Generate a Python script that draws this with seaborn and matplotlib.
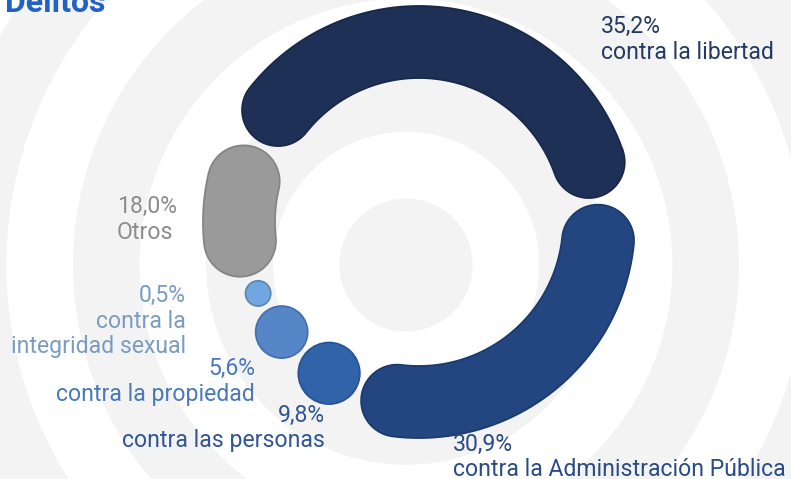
import numpy as np
import matplotlib
matplotlib.use('Agg')
import matplotlib.pyplot as plt
import seaborn as sns
from matplotlib.patches import Circle, Polygon

# data, clockwise from the upper left
categories = ['contra la libertad', 'contra la Administración Pública', 'contra las personas',
              'contra la propiedad', 'contra la\nintegridad sexual', 'Otros']
values = [35.2, 30.9, 9.8, 5.6, 0.5, 18.0]

colors = ['#1f3057', '#234680', '#3163a9', '#5686c8', '#70a7e0', '#9a9a9a']
edge_colors = ['#18284a', '#1b3a6e', '#27539a', '#4470ad', '#5f88ad', '#858585']
text_colors = ['#243a62', '#2a4b85', '#2f5597', '#4a78b8', '#7a9cc0', '#8c8c8c']

sns.set_theme(style='white')
plt.rcParams['font.family'] = ['Roboto', 'DejaVu Sans']

fig = plt.figure(figsize=(7.91, 4.79), dpi=100)
ax = fig.add_axes([0, 0, 1, 1])
ax.set_xlim(0, 791)
ax.set_ylim(479, 0)
ax.axis('off')

# concentric background bands
for k in range(9, 0, -1):
    ax.add_patch(Circle((406, 265), k * 66.6, color='#f3f3f3' if k % 2 else 'white', lw=0, zorder=0))

cx, cy = 419, 222
rm, hw = 180, 36
gap = np.radians(2.5)
start = np.radians(-63)


def pos(phi, r):
    return cx + r * np.sin(phi), cy - r * np.cos(phi)


def capsule(a, b):
    d = hw / rm
    ca, cb = a + d, b - d
    t = np.linspace(ca, cb, 100)
    al = np.linspace(0, np.pi, 40)[:, None]

    def cap(phi, sign):
        c = np.array(pos(phi, rm))
        u = np.array([np.sin(phi), -np.cos(phi)])
        tt = np.array([np.cos(phi), np.sin(phi)])
        return c + hw * sign * (np.cos(al) * u + np.sin(al) * tt)

    outer = np.column_stack(pos(t, rm + hw))
    inner = np.column_stack(pos(t[::-1], rm - hw))
    return np.vstack([outer, cap(cb, 1), inner, cap(ca, -1)])


# small shares are drawn as bubbles, large ones share the rest of the ring
is_bubble = [v < 10 for v in values]
bubble_r = [15.5 * v ** 0.3 for v in values]
bubble_ang = sum(2 * r / rm for r, b in zip(bubble_r, is_bubble) if b)
weights = [v ** 1.85 for v, b in zip(values, is_bubble) if not b]
free = 2 * np.pi - len(values) * gap - bubble_ang

phi = start
for v, b, r, fc, ec in zip(values, is_bubble, bubble_r, colors, edge_colors):
    if b:
        ext = 2 * r / rm
        ax.add_patch(Circle(pos(phi + ext / 2, rm - 4), r, facecolor=fc, edgecolor=ec, lw=1.3, zorder=3))
    else:
        ext = free * v ** 1.85 / sum(weights)
        ax.add_patch(Polygon(capsule(phi, phi + ext), closed=True, facecolor=fc, edgecolor=ec, lw=1.3, zorder=3))
    phi += ext + gap

# labels: x, first baseline, alignment
label_pos = [(601, 33, 'left'), (453, 451, 'left'), (325, 422, 'right'),
             (255, 375, 'right'), (186, 302, 'right'), (117, 213, 'left')]
for cat, v, (x, y, ha), tc in zip(categories, values, label_pos, text_colors):
    lines = [f'{v:.1f}%'.replace('.', ',')] + cat.split('\n')
    for j, line in enumerate(lines):
        ax.text(x, y + j * 25.5, line, ha=ha, va='baseline', fontsize=16.6, color=tc, zorder=5)

ax.text(5, 12, 'Delitos', fontsize=23, fontweight='bold', color='#2261c4', va='baseline', zorder=5)

fig.savefig('out.png', dpi=100)
